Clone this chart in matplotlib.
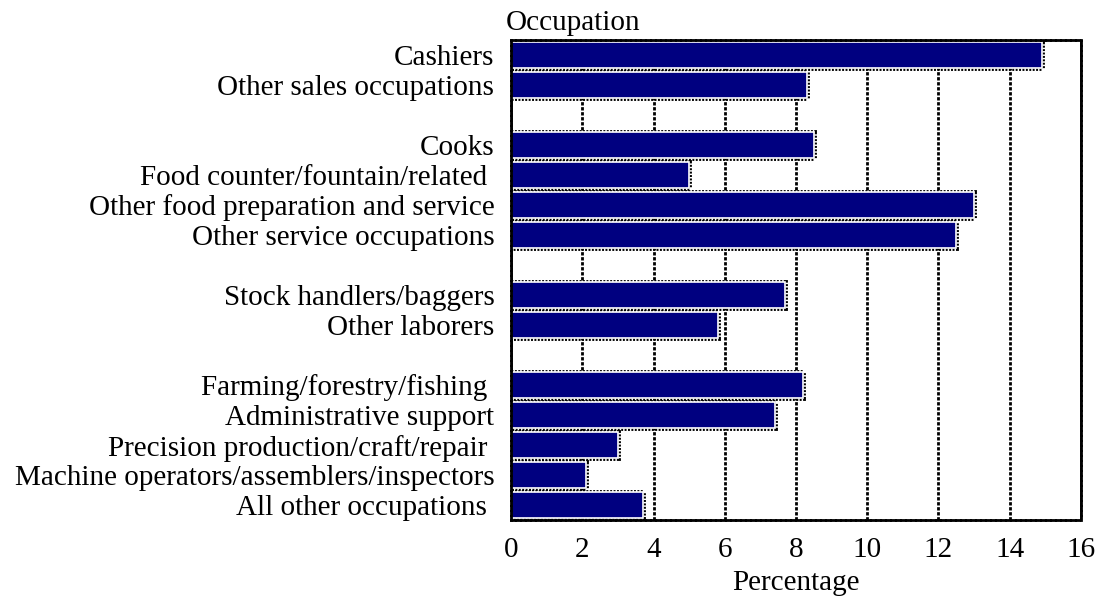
import matplotlib
matplotlib.use("Agg")
import matplotlib.pyplot as plt

# occupations, top to bottom; None marks the blank row between groups
occupations = [
    "Cashiers", "Other sales occupations", None,
    "Cooks", "Food counter/fountain/related ", "Other food preparation and service",
    "Other service occupations", None,
    "Stock handlers/baggers", "Other laborers", None,
    "Farming/forestry/fishing ", "Administrative support",
    "Precision production/craft/repair ", "Machine operators/assemblers/inspectors",
    "All other occupations ",
]
percentages = [14.9, 8.3, None,
               8.5, 5.0, 13.0, 12.5, None,
               7.7, 5.8, None,
               8.2, 7.4, 3.0, 2.1, 3.7]
xticks = [0, 2, 4, 6, 8, 10, 12, 14, 16]

plt.rcParams['font.family'] = ['Liberation Serif', 'DejaVu Serif']
FS = 21

fig = plt.figure(figsize=(10.99, 6.03), dpi=100)
ax = fig.add_axes([0.465, 0.1376, 0.5186, 0.7961])

pos = [i for i, v in enumerate(percentages) if v is not None]
vals = [v for v in percentages if v is not None]
labels = [occupations[i] for i in pos]

dots = (0, (0.4, 0.3))
# outer dotted black outline, then navy bar with thin white edge on top
ax.barh(pos, vals, height=0.85, color='navy', edgecolor='black',
        linewidth=3.5, linestyle=dots, zorder=3)
ax.barh(pos, vals, height=0.85, color='navy', edgecolor='white',
        linewidth=1.2, zorder=4)

ax.set_xlim(0, 16)
ax.set_ylim(len(percentages) - 0.5, -0.5)
ax.set_xticks(xticks)
ax.set_xticklabels([str(t) for t in xticks], fontsize=FS)
ax.set_yticks(pos)
ax.set_yticklabels(labels, fontsize=FS)
ax.tick_params(axis='x', length=0, pad=12)
ax.tick_params(axis='y', length=0, pad=12)

ax.grid(axis='x', color='black', linestyle=(0, (1.2, 0.6)), linewidth=2, zorder=1)
ax.set_axisbelow(True)
for s in ax.spines.values():
    s.set_linestyle((0, (1.2, 0.6)))
    s.set_linewidth(2)
    s.set_zorder(5)

ax.set_xlabel("Percentage", fontsize=FS, labelpad=5)
ax.text(-0.01, 1.008, "Occupation", transform=ax.transAxes, fontsize=FS,
        ha='left', va='bottom')

fig.savefig("out.png", dpi=100)
